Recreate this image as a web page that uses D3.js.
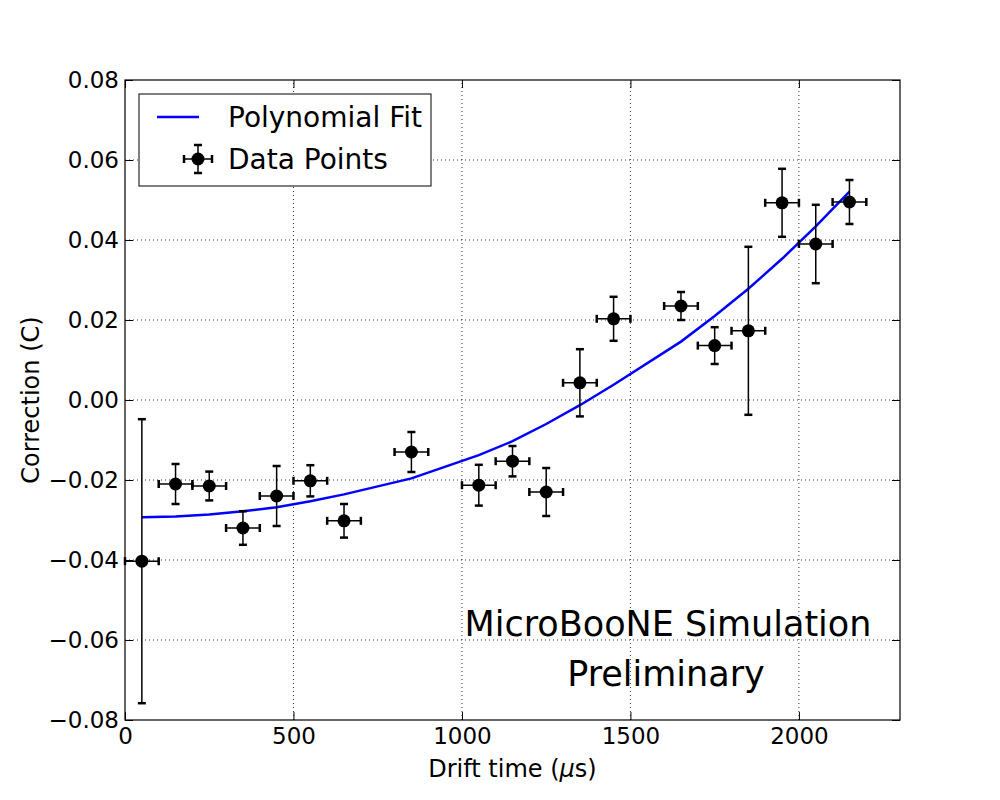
<!DOCTYPE html>
<html>
<head>
<meta charset="utf-8">
<script src="https://cdn.jsdelivr.net/npm/d3@7"></script>
<style>
body { margin: 0; background: #fff; }
text { font-family: "DejaVu Sans", sans-serif; }
</style>
</head>
<body>
<script>
// drift time bin centres (us)
var times = [50, 150, 250, 350, 450, 550, 650, 850, 1050, 1150, 1250, 1350, 1450, 1650, 1750, 1850, 1950, 2050, 2150];
var xErr = 50;
var corr = [-0.0403, -0.0210, -0.0215, -0.0320, -0.0240, -0.0202, -0.0302, -0.0130, -0.0213, -0.0153, -0.0230, 0.0043, 0.0203, 0.0235, 0.0136, 0.0173, 0.0493, 0.0390, 0.0495];
var corrErr = [0.0355, 0.0050, 0.0036, 0.0042, 0.0075, 0.0039, 0.0042, 0.0050, 0.0051, 0.0038, 0.0060, 0.0084, 0.0055, 0.0035, 0.0046, 0.0210, 0.0085, 0.0098, 0.0055];
var fit = [-0.0293, -0.0291, -0.0286, -0.0278, -0.0268, -0.0253, -0.0236, -0.0196, -0.0138, -0.0103, -0.0060, -0.0013, 0.0038, 0.0146, 0.0210, 0.0278, 0.0353, 0.0434, 0.0521];
var xTicks = [0, 500, 1000, 1500, 2000];
var yTicks = [-0.08, -0.06, -0.04, -0.02, 0.00, 0.02, 0.04, 0.06, 0.08];

var W = 1000, H = 800;
var m = {left: 125, right: 100, top: 80, bottom: 80};

var svg = d3.select("body").append("svg")
    .attr("width", W)
    .attr("height", H);

var x = d3.scaleLinear().domain([0, 2300]).range([m.left, W - m.right]);
var y = d3.scaleLinear().domain([-0.08, 0.08]).range([H - m.bottom, m.top]);

// grid
svg.append("g").selectAll("line").data(xTicks.slice(1)).enter().append("line")
    .attr("x1", function(d){ return x(d); }).attr("x2", function(d){ return x(d); })
    .attr("y1", y(-0.08)).attr("y2", y(0.08))
    .attr("stroke", "#000").attr("stroke-width", 0.8).attr("stroke-dasharray", "1,3");
svg.append("g").selectAll("line").data(yTicks.slice(1, -1)).enter().append("line")
    .attr("y1", function(d){ return y(d); }).attr("y2", function(d){ return y(d); })
    .attr("x1", x(0)).attr("x2", x(2300))
    .attr("stroke", "#000").attr("stroke-width", 0.8).attr("stroke-dasharray", "1,3");

// axes, ticks inward on all sides
var fmtY = function(d){ return d3.format(".2f")(d).replace("-", "\u2212"); };
var gB = svg.append("g").attr("transform", "translate(0," + y(-0.08) + ")")
    .call(d3.axisBottom(x).tickValues(xTicks).tickSizeInner(-8).tickSizeOuter(0).tickPadding(8).tickFormat(d3.format("d")));
var gT = svg.append("g").attr("transform", "translate(0," + y(0.08) + ")")
    .call(d3.axisTop(x).tickValues(xTicks).tickSizeInner(-8).tickSizeOuter(0).tickFormat(""));
var gL = svg.append("g").attr("transform", "translate(" + x(0) + ",0)")
    .call(d3.axisLeft(y).tickValues(yTicks).tickSizeInner(-8).tickSizeOuter(0).tickPadding(6).tickFormat(fmtY));
var gR = svg.append("g").attr("transform", "translate(" + x(2300) + ",0)")
    .call(d3.axisRight(y).tickValues(yTicks).tickSizeInner(-8).tickSizeOuter(0).tickFormat(""));
[gB, gT, gL, gR].forEach(function(g){
    g.select(".domain").remove();
    g.selectAll("line").attr("stroke", "#000").attr("stroke-width", 1);
});
gB.selectAll("text").attr("font-size", 23).attr("fill", "#000");
gL.selectAll("text").attr("font-size", 23).attr("fill", "#000");

svg.append("rect")
    .attr("x", x(0)).attr("y", y(0.08))
    .attr("width", x(2300) - x(0)).attr("height", y(-0.08) - y(0.08))
    .attr("fill", "none").attr("stroke", "#000").attr("stroke-width", 1.2);

// fit line
var line = d3.line()
    .x(function(d, i){ return x(times[i]); })
    .y(function(d){ return y(d); });
svg.append("path").datum(fit)
    .attr("d", line)
    .attr("fill", "none").attr("stroke", "#0000ff").attr("stroke-width", 2.5);

// error bars + points
var pts = svg.append("g").selectAll("g").data(corr).enter().append("g");
pts.append("line")
    .attr("x1", function(d, i){ return x(times[i]); }).attr("x2", function(d, i){ return x(times[i]); })
    .attr("y1", function(d, i){ return y(d + corrErr[i]); }).attr("y2", function(d, i){ return y(d - corrErr[i]); })
    .attr("stroke", "#000").attr("stroke-width", 1.5);
pts.append("line")
    .attr("x1", function(d, i){ return x(times[i] - xErr); }).attr("x2", function(d, i){ return x(times[i] + xErr); })
    .attr("y1", function(d){ return y(d); }).attr("y2", function(d){ return y(d); })
    .attr("stroke", "#000").attr("stroke-width", 1.5);
// caps
[1, -1].forEach(function(s){
    pts.append("line")
        .attr("x1", function(d, i){ return x(times[i]) - 4; }).attr("x2", function(d, i){ return x(times[i]) + 4; })
        .attr("y1", function(d, i){ return y(d + s * corrErr[i]); }).attr("y2", function(d, i){ return y(d + s * corrErr[i]); })
        .attr("stroke", "#000").attr("stroke-width", 2.5);
    pts.append("line")
        .attr("x1", function(d, i){ return x(times[i] + s * xErr); }).attr("x2", function(d, i){ return x(times[i] + s * xErr); })
        .attr("y1", function(d){ return y(d) - 4; }).attr("y2", function(d){ return y(d) + 4; })
        .attr("stroke", "#000").attr("stroke-width", 2.5);
});
pts.append("circle")
    .attr("cx", function(d, i){ return x(times[i]); })
    .attr("cy", function(d){ return y(d); })
    .attr("r", 6.5).attr("fill", "#000");

// axis labels
var xl = svg.append("text")
    .attr("x", (x(0) + x(2300)) / 2).attr("y", 777)
    .attr("text-anchor", "middle").attr("font-size", 24);
xl.append("tspan").text("Drift time (");
xl.append("tspan").attr("font-style", "italic").text("\u03bc");
xl.append("tspan").text("s)");
svg.append("text")
    .attr("transform", "translate(39," + y(0) + ") rotate(-90)")
    .attr("text-anchor", "middle").attr("font-size", 24)
    .text("Correction (C)");

// legend
var lg = svg.append("g");
lg.append("rect").attr("x", 139).attr("y", 94).attr("width", 292).attr("height", 92)
    .attr("fill", "#fff").attr("stroke", "#000").attr("stroke-width", 1);
lg.append("line").attr("x1", 157).attr("x2", 199).attr("y1", 117).attr("y2", 117)
    .attr("stroke", "#0000ff").attr("stroke-width", 2.5);
lg.append("text").attr("x", 228).attr("y", 127).attr("font-size", 28).text("Polynomial Fit");
lg.append("line").attr("x1", 184).attr("x2", 212).attr("y1", 159).attr("y2", 159).attr("stroke", "#000").attr("stroke-width", 1.5);
lg.append("line").attr("x1", 198).attr("x2", 198).attr("y1", 145).attr("y2", 173).attr("stroke", "#000").attr("stroke-width", 1.5);
lg.append("line").attr("x1", 194).attr("x2", 202).attr("y1", 145).attr("y2", 145).attr("stroke", "#000").attr("stroke-width", 2.5);
lg.append("line").attr("x1", 194).attr("x2", 202).attr("y1", 173).attr("y2", 173).attr("stroke", "#000").attr("stroke-width", 2.5);
lg.append("line").attr("x1", 184).attr("x2", 184).attr("y1", 155).attr("y2", 163).attr("stroke", "#000").attr("stroke-width", 2.5);
lg.append("line").attr("x1", 212).attr("x2", 212).attr("y1", 155).attr("y2", 163).attr("stroke", "#000").attr("stroke-width", 2.5);
lg.append("circle").attr("cx", 198).attr("cy", 159).attr("r", 6.5).attr("fill", "#000");
lg.append("text").attr("x", 228).attr("y", 169).attr("font-size", 28).text("Data Points");

// annotation
svg.append("text").attr("x", 668).attr("y", 636).attr("text-anchor", "middle").attr("font-size", 35).text("MicroBooNE Simulation");
svg.append("text").attr("x", 666).attr("y", 686).attr("text-anchor", "middle").attr("font-size", 35).text("Preliminary");
</script>
</body>
</html>
